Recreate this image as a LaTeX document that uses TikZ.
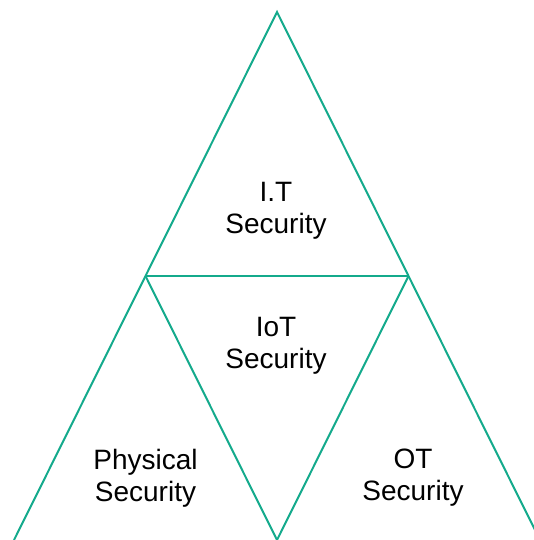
\documentclass[tikz,border=0pt]{standalone}
\usepackage{fontspec}
\setmainfont{Liberation Sans}
\usetikzlibrary{positioning,calc}
\definecolor{secgreen}{RGB}{20,170,140}
\tikzset{
  tri/.style={draw=secgreen, line width=2pt},
  sectxt/.style={align=center, font=\fontsize{28}{32}\selectfont, inner sep=0pt}
}
\begin{document}
\begin{tikzpicture}[x=1pt, y=-1pt]
\clip (0,0) rectangle (534,540);
\coordinate (top) at (277,12);
\coordinate (midl) at (145.5,276);
\coordinate (midr) at (408.5,276);
\coordinate (botl) at (14,540);
\coordinate (botr) at (540,540);
\coordinate (botm) at (277,540);
\draw[tri] (botl) -- (top) -- (botr);
\draw[tri] (midl) -- (midr);
\draw[tri] (midl) -- (botm) -- (midr);
\node[sectxt] (it) at (276,210.5) {I.T\\Security};
\node[sectxt] (iot) at (276,345.5) {IoT\\Security};
\node[sectxt] (phys) at (145.5,478) {Physical\\Security};
\node[sectxt] (ot) at (413,478) {OT\\Security};
\end{tikzpicture}
\end{document}
